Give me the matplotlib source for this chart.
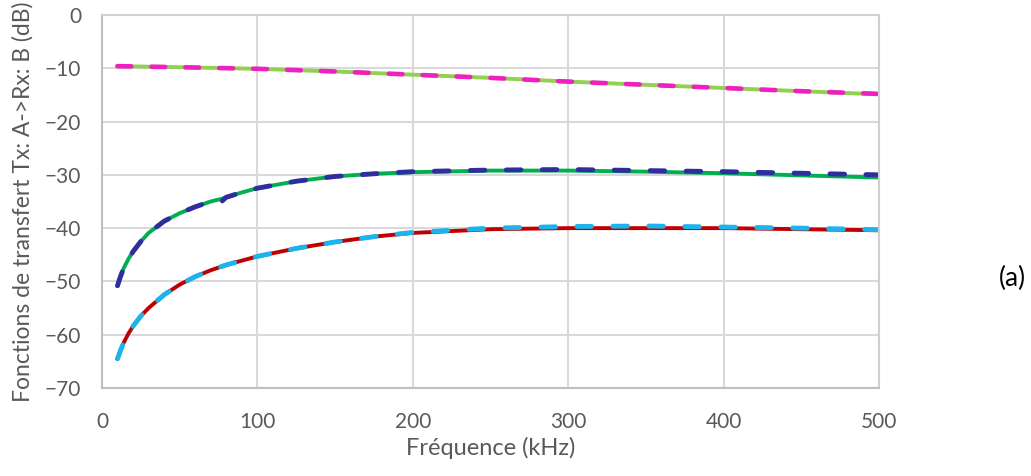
import matplotlib.pyplot as plt

# ==========================
# DONNEES
# ==========================
freq = [10, 12, 14, 17, 20, 25, 30, 40, 50, 60, 70, 77, 80, 90, 100,
        125, 150, 175, 200, 250, 300, 350, 400, 450, 500]

mid_solid = [-50.8, -49.0, -47.5, -45.8, -44.4, -42.5, -40.9, -38.7, -37.2, -36.0,
             -35.0, -34.5, -34.2, -33.3, -32.5, -31.2, -30.3, -29.8, -29.5, -29.2,
             -29.2, -29.4, -29.7, -30.1, -30.5]
mid_dash = [-50.8, -49.0, -47.5, -45.8, -44.4, -42.5, -40.9, -38.7, -37.2, -36.0,
            -35.0, -35.0, -34.2, -33.3, -32.5, -31.2, -30.3, -29.8, -29.4, -29.1,
            -29.0, -29.2, -29.4, -29.7, -30.0]

low_solid = [-64.5, -62.9, -61.5, -59.8, -58.4, -56.5, -55.0, -52.5, -50.6, -49.1,
             -47.9, -47.2, -46.9, -46.1, -45.3, -43.8, -42.6, -41.6, -40.9, -40.2,
             -40.0, -40.0, -40.0, -40.2, -40.4]
low_dash = [-64.5, -62.9, -61.5, -59.8, -58.4, -56.5, -55.0, -52.5, -50.6, -49.1,
            -47.9, -47.2, -46.9, -46.1, -45.3, -43.8, -42.6, -41.6, -40.8, -40.0,
            -39.7, -39.6, -39.8, -40.0, -40.3]

freq_top = [10, 50, 100, 150, 200, 250, 300, 350, 400, 450, 500]
top_solid = [-9.6, -9.8, -10.1, -10.6, -11.2, -11.8, -12.5, -13.1, -13.7, -14.3, -14.9]
top_dash = [-9.6, -9.8, -10.1, -10.6, -11.2, -11.8, -12.5, -13.1, -13.7, -14.3, -14.8]

xticks = [0, 100, 200, 300, 400, 500]
yticks = [0, -10, -20, -30, -40, -50, -60, -70]

# ==========================
# FIGURE
# ==========================
plt.rcParams['font.family'] = ['Lato', 'DejaVu Sans']

fig = plt.figure(figsize=(10.31, 4.76), dpi=100)
ax = fig.add_axes([0.0989, 0.1849, 0.7537, 0.7836])

dash = (0, (3.0, 4.4))

ax.plot(freq_top, top_solid, color='#92D050', lw=2.8)
ax.plot(freq_top, top_dash, color='#F020C0', lw=3.3, linestyle=dash,
        dash_capstyle='round')

ax.plot(freq, mid_solid, color='#00B050', lw=2.8)
ax.plot(freq, mid_dash, color='#2E2E9E', lw=3.5, linestyle=dash,
        dash_capstyle='round')

ax.plot(freq, low_solid, color='#C00000', lw=2.8)
ax.plot(freq, low_dash, color='#1CB4EC', lw=3.5, linestyle=dash,
        dash_capstyle='round')

ax.set_xlim(0, 500)
ax.set_ylim(-70, 0)
ax.set_xticks(xticks)
ax.set_yticks(yticks)
ax.grid(True, color='#D9D9D9', lw=1.5)
ax.set_axisbelow(True)
for s in ax.spines.values():
    s.set_color('#D0D0D0')
    s.set_linewidth(1.5)
ax.spines['left'].set_color('#BFBFBF')
ax.spines['bottom'].set_color('#BFBFBF')

ax.tick_params(axis='y', length=0, labelsize=15, labelcolor='#595959', pad=15)
ax.tick_params(axis='x', length=0, labelsize=15, labelcolor='#595959', pad=17)
ax.set_xlabel('Fréquence (kHz)', fontsize=17, color='#595959', labelpad=4)
ax.set_ylabel('Fonctions de transfert Tx: A->Rx: B (dB)', fontsize=16.5,
              color='#595959', labelpad=8)

fig.text(0.982, 0.415, '(a)', fontsize=19, color='black', ha='center', va='center')

fig.savefig('out.png', dpi=100)
